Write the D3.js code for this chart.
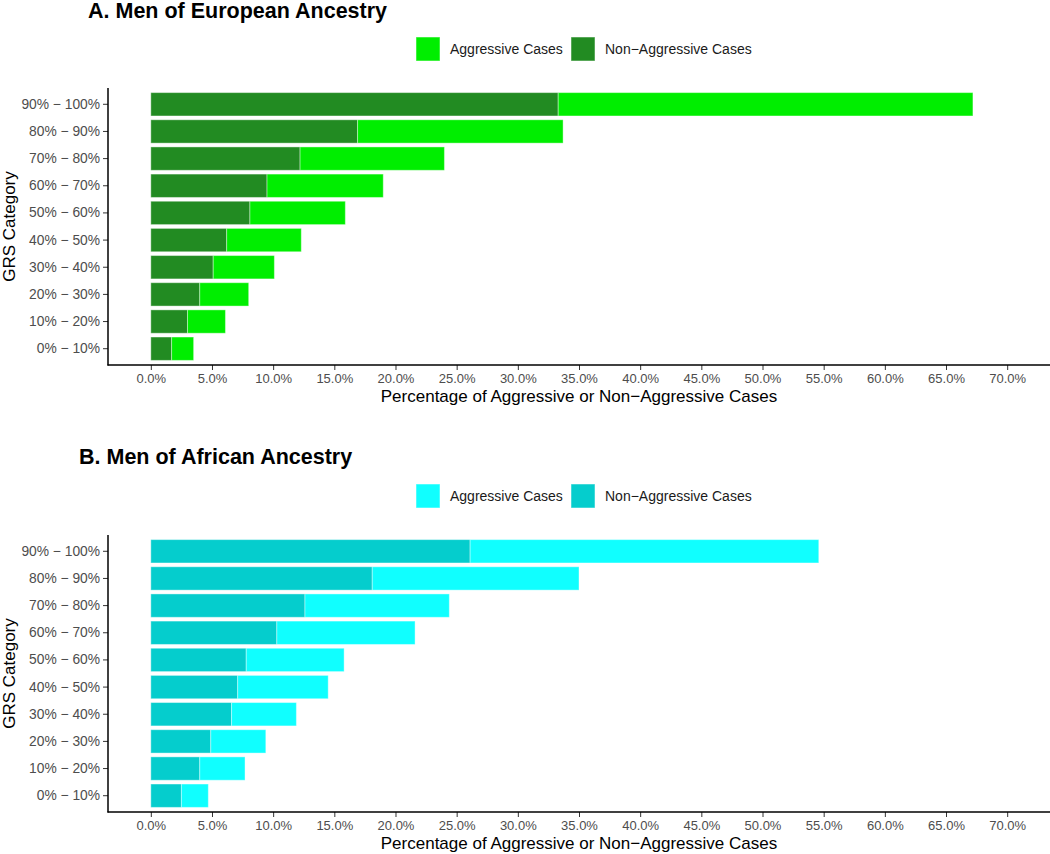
<!DOCTYPE html>
<html>
<head>
<meta charset="utf-8">
<script src="https://cdn.jsdelivr.net/npm/d3@7"></script>
<style>
  body { margin: 0; background: #fff; }
  svg { display: block; font-family: "Liberation Sans", Arial, Helvetica, sans-serif; }
</style>
</head>
<body>
<svg id="chart" width="1050" height="854"></svg>
<script>
// Categories (bottom to top as in the data order)
const categories = ["0% \u2212 10%", "10% \u2212 20%", "20% \u2212 30%", "30% \u2212 40%", "40% \u2212 50%",
                    "50% \u2212 60%", "60% \u2212 70%", "70% \u2212 80%", "80% \u2212 90%", "90% \u2212 100%"];
// Panel A: Men of European Ancestry (percent of cases)
const euroNonAggressive = [1.7, 3.0, 4.0, 5.1, 6.2, 8.1, 9.5, 12.2, 16.9, 33.3];
const euroAggressive    = [1.8, 3.1, 4.0, 5.0, 6.1, 7.8, 9.5, 11.8, 16.8, 33.9];
// Panel B: Men of African Ancestry (percent of cases)
const afrNonAggressive  = [2.5, 4.0, 4.9, 6.6, 7.1, 7.8, 10.3, 12.6, 18.1, 26.1];
const afrAggressive     = [2.2, 3.7, 4.5, 5.3, 7.4, 8.0, 11.3, 11.8, 16.9, 28.5];
// X axis ticks
const xTicks = [0, 5, 10, 15, 20, 25, 30, 35, 40, 45, 50, 55, 60, 65, 70];
const seriesLabels = ["Aggressive Cases", "Non\u2212Aggressive Cases"];

const svg = d3.select("#chart");

const x = d3.scaleLinear().domain([-3.5, 73.5]).range([108, 1050]);

function panel(opts) {
  const g = svg.append("g");
  const top = opts.top, bottom = opts.bottom;
  const y = d3.scaleBand()
    .domain(categories.slice().reverse())
    .range([top, bottom])
    .paddingInner(0.14)
    .paddingOuter(0.17);

  // Title
  g.append("text")
    .attr("x", opts.titleX).attr("y", opts.titleY)
    .attr("font-size", 21.5).attr("font-weight", "bold").attr("fill", "#000")
    .text(opts.title);

  // Legend
  const leg = g.append("g");
  const legItems = [
    { label: seriesLabels[0], color: opts.light, x: 416 },
    { label: seriesLabels[1], color: opts.dark, x: 571 }
  ];
  legItems.forEach(it => {
    leg.append("rect").attr("x", it.x).attr("y", opts.legendY - 12)
      .attr("width", 24).attr("height", 24)
      .attr("fill", it.color).attr("stroke", "#fff").attr("stroke-opacity", 0.5).attr("stroke-width", 1);
    leg.append("text").attr("x", it.x + 34).attr("y", opts.legendY)
      .attr("dy", "0.35em").attr("font-size", 14).attr("fill", "#1a1a1a")
      .text(it.label);
  });

  // Bars
  const rows = categories.map((c, i) => ({ cat: c, non: opts.non[i], agg: opts.agg[i] }));
  g.selectAll(".bnon").data(rows).enter().append("rect")
    .attr("x", x(0)).attr("y", d => y(d.cat))
    .attr("width", d => x(d.non) - x(0)).attr("height", y.bandwidth())
    .attr("fill", opts.dark).attr("stroke", "#fff").attr("stroke-opacity", 0.4).attr("stroke-width", 1);
  g.selectAll(".bagg").data(rows).enter().append("rect")
    .attr("x", d => x(d.non)).attr("y", d => y(d.cat))
    .attr("width", d => x(d.non + d.agg) - x(d.non)).attr("height", y.bandwidth())
    .attr("fill", opts.light).attr("stroke", "#fff").attr("stroke-opacity", 0.4).attr("stroke-width", 1);

  // Axes
  const yAxis = d3.axisLeft(y).tickSize(5).tickPadding(3);
  const ya = g.append("g").attr("transform", `translate(108,0)`).call(yAxis);
  ya.select(".domain").remove();
  ya.selectAll("text").attr("font-size", 13.8).attr("fill", "#4d4d4d").attr("font-family", null);
  ya.selectAll("line").attr("stroke", "#333").attr("stroke-width", 1);

  const xAxis = d3.axisBottom(x).tickValues(xTicks).tickSize(5).tickPadding(4)
    .tickFormat(d => d.toFixed(1) + "%");
  const xa = g.append("g").attr("transform", `translate(0,${bottom})`).call(xAxis);
  xa.select(".domain").remove();
  xa.selectAll("text").attr("font-size", 13).attr("fill", "#4d4d4d").attr("font-family", null);
  xa.selectAll("line").attr("stroke", "#333").attr("stroke-width", 1);

  // Axis lines
  g.append("line").attr("x1", 108).attr("x2", 108).attr("y1", top).attr("y2", bottom + 0.5)
    .attr("stroke", "#000").attr("stroke-width", 1.5);
  g.append("line").attr("x1", 107.5).attr("x2", 1050).attr("y1", bottom).attr("y2", bottom)
    .attr("stroke", "#000").attr("stroke-width", 1.5);

  // Axis titles
  g.append("text").attr("x", (108 + 1050) / 2).attr("y", bottom + 37)
    .attr("text-anchor", "middle").attr("font-size", 17).attr("fill", "#000")
    .text("Percentage of Aggressive or Non\u2212Aggressive Cases");
  g.append("text")
    .attr("transform", `translate(15,${(top + bottom) / 2}) rotate(-90)`)
    .attr("text-anchor", "middle").attr("font-size", 17).attr("fill", "#000")
    .text("GRS Category");
}

panel({
  title: "A. Men of European Ancestry", titleX: 88, titleY: 18, legendY: 49,
  top: 88, bottom: 365,
  non: euroNonAggressive, agg: euroAggressive,
  light: "#00EE00", dark: "#228B22"
});
panel({
  title: "B. Men of African Ancestry", titleX: 79, titleY: 464, legendY: 496,
  top: 535, bottom: 812,
  non: afrNonAggressive, agg: afrAggressive,
  light: "#10FFFF", dark: "#05CDCD"
});
</script>
</body>
</html>
